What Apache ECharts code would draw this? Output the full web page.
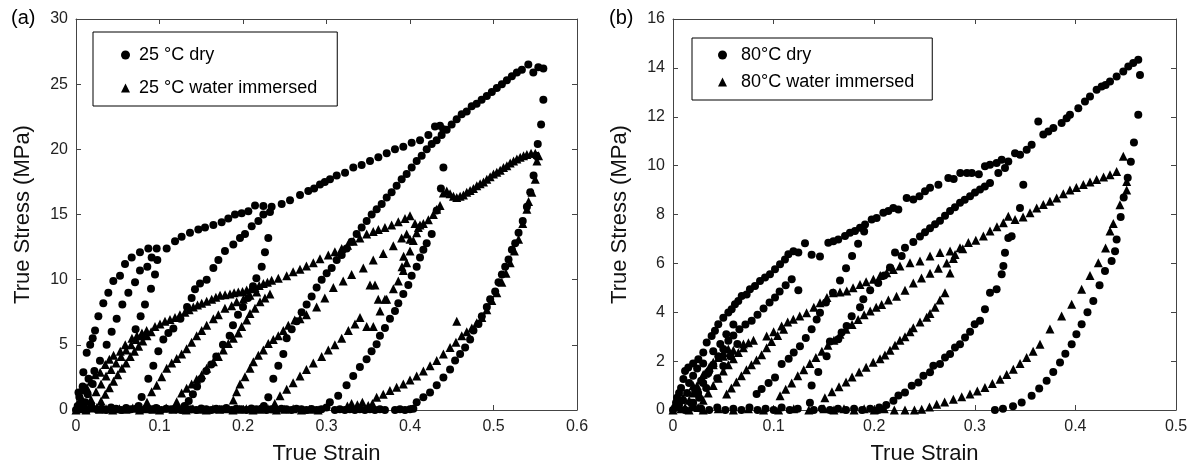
<!DOCTYPE html>
<html>
<head>
<meta charset="utf-8">
<script src="https://cdn.jsdelivr.net/npm/echarts@6/dist/echarts.min.js"></script>
<style>
html,body{margin:0;padding:0;background:#fff;}
#chart{width:1192px;height:470px;}
</style>
</head>
<body>
<div id="chart"></div>
<script>
// ---------- Tick values ----------
var aStrainTicks = [0, 0.6, 0.1];
var aStressTicks = [0, 30, 5];
var bStrainTicks = [0, 0.5, 0.1];
var bStressTicks = [0, 16, 2];

// ---------- Labels ----------
var legendA = ['25 °C dry', '25 °C water immersed'];
var legendB = ['80°C dry', '80°C water immersed'];
var axisNameX = 'True Strain';
var axisNameY = 'True Stress (MPa)';

// ================= Panel (a): 25 °C dry (circles) =================
var aDryEnvelope = [[0,0],[0.003,1.35],[0.0088,2.9],[0.0128,4.4],[0.017,5.0],[0.02,5.5],[0.0228,6.1],[0.0268,7.2],[0.0327,8.2],[0.0387,9.0],[0.0447,9.9],[0.0527,10.3],[0.0587,11.2],[0.0667,11.7],[0.0766,12.1],[0.0866,12.4],[0.0966,12.4],[0.1086,12.4],[0.1186,12.95],[0.1265,13.3],[0.1365,13.6],[0.1465,13.85],[0.1545,14.0],[0.1645,14.2],[0.1744,14.4],[0.1824,14.7],[0.1904,15.0],[0.1984,15.1],[0.2064,15.25],[0.2144,15.7],[0.2244,15.65],[0.2343,15.6],[0.2463,15.8],[0.2563,16.1],[0.2683,16.5],[0.2782,16.8],[0.2852,17.0],[0.2922,17.3],[0.298,17.5],[0.3042,17.7],[0.3122,18.0],[0.3222,18.2],[0.3321,18.6],[0.3421,18.8],[0.3521,19.1],[0.3621,19.4],[0.3721,19.7],[0.382,20.0],[0.392,20.2],[0.402,20.5],[0.412,20.7],[0.422,21.1],[0.4299,21.75],[0.4359,21.8],[0.4399,21.55]];
var aDryInner1 = [[0.005,0.5],[0.01,1.5],[0.015,2.4],[0.022,3.0],[0.0287,3.77],[0.0367,5.0],[0.0427,6.0],[0.0487,7.0],[0.0555,8.1],[0.0627,9.0],[0.0707,9.8],[0.0766,10.7],[0.0854,11.0],[0.0906,11.7],[0.0974,11.5]];
var aDryUnload1 = [[0.0946,10.4],[0.0898,9.3],[0.0826,8.1],[0.0774,7.2],[0.0714,6.2]];
var aDryReload2 = [[0.075,0.3],[0.0786,1.0],[0.0866,2.4],[0.0926,3.4],[0.0986,4.5],[0.1046,5.4],[0.1106,5.9],[0.1166,6.25],[0.125,7.0],[0.133,7.9],[0.1385,8.6],[0.1425,9.26],[0.1485,9.7],[0.1565,10.0],[0.1645,10.9],[0.1705,11.5],[0.1784,12.2],[0.1884,12.7],[0.1964,13.2],[0.2024,13.5],[0.2104,14.1],[0.2184,14.5],[0.2244,15.0],[0.2323,15.2]];
var aDryUnload2 = [[0.2303,13.2],[0.2263,12.1],[0.2224,11.0],[0.216,10.1],[0.212,9.5],[0.206,8.6],[0.2,7.9],[0.194,7.3],[0.188,6.5],[0.184,5.7],[0.176,5.0],[0.168,4.1],[0.162,3.5],[0.156,3.0],[0.15,2.4],[0.145,1.8],[0.14,1.2],[0.135,0.7],[0.13,0.3]];
var aDryReload3 = [[0.225,0.3],[0.2303,0.97],[0.2363,2.4],[0.2423,3.4],[0.2483,4.3],[0.2523,5.5],[0.2583,6.2],[0.2643,6.8],[0.2702,7.5],[0.2762,8.1],[0.2822,8.7],[0.2882,9.4],[0.2942,10.0],[0.3002,10.5],[0.3062,10.9],[0.3122,11.5],[0.3182,11.9],[0.3242,12.4],[0.3301,12.9],[0.3361,13.5],[0.3421,14.0],[0.3481,14.5],[0.3541,15.0],[0.3601,15.4],[0.3661,15.8],[0.3721,16.3],[0.378,16.7],[0.384,17.2],[0.39,17.7],[0.396,18.1],[0.402,18.6],[0.408,19.1],[0.414,19.5],[0.42,20.0],[0.426,20.4],[0.4319,20.7],[0.4379,21.1],[0.4439,21.5],[0.4499,21.9],[0.4559,22.3],[0.4619,22.7],[0.4679,22.9],[0.4739,23.3],[0.4798,23.5],[0.4858,23.8],[0.492,24.1],[0.498,24.4],[0.504,24.7],[0.51,25.0],[0.516,25.3],[0.522,25.6],[0.528,25.9],[0.534,26.1],[0.5417,26.5],[0.5477,25.9],[0.5537,26.3],[0.5597,26.2]];
var aDryUnload3 = [[0.44,18.6],[0.437,17.0],[0.432,15.3],[0.426,13.5],[0.42,12.8],[0.416,12.3],[0.412,11.7],[0.408,11.0],[0.402,10.3],[0.398,9.6],[0.392,8.9],[0.386,8.2],[0.382,7.6],[0.376,7.0],[0.37,6.3],[0.364,5.7],[0.36,5.05],[0.354,4.5],[0.348,3.9],[0.34,3.3],[0.332,2.6],[0.324,1.9],[0.314,1.1],[0.304,0.6],[0.3,0.2]];
var aDryUnload4 = [[0.5597,23.8],[0.557,21.9],[0.553,20.4],[0.551,19.5],[0.548,18.0],[0.544,16.7],[0.54,15.6],[0.535,14.5],[0.53,13.6],[0.526,12.8],[0.522,12.3],[0.518,11.55],[0.514,11.0],[0.51,10.4],[0.506,9.8],[0.502,9.1],[0.496,8.5],[0.492,7.9],[0.486,7.2],[0.482,6.6],[0.476,6.1],[0.472,5.4],[0.466,4.8],[0.46,4.3],[0.454,3.8],[0.448,3.1],[0.44,2.5],[0.432,1.9],[0.424,1.35],[0.416,0.97],[0.408,0.6],[0.404,0.1]];
var aDryOrigin = [[0.002,0.3],[0.004,1.0],[0.006,0.2],[0.008,1.8],[0.011,0.6],[0.014,1.2],[0.018,0.4],[0.02,2.0]];
var aDryZero = [[0.003,0.1],[0.008,0.2],[0.013,0.0],[0.019,0.15],[0.025,0.05],[0.031,0.1],[0.036,0.0],[0.042,0.2],[0.048,0.1],[0.054,0.0],[0.06,0.15],[0.066,0.05],[0.072,0.1],[0.078,0.0],[0.084,0.12],[0.09,0.05],[0.096,0.15],[0.102,0.0],[0.108,0.1],[0.114,0.05],[0.12,0.15],[0.126,0.0],[0.132,0.1],[0.138,0.05],[0.144,0.0],[0.15,0.12],[0.156,0.05],[0.162,0.0],[0.168,0.1],[0.174,0.05],[0.18,0.15],[0.186,0.0],[0.192,0.1],[0.198,0.05],[0.204,0.0],[0.21,0.12],[0.216,0.05],[0.222,0.1],[0.228,0.0],[0.234,0.05],[0.24,0.0],[0.246,0.1],[0.252,0.05],[0.258,0.0],[0.264,0.1],[0.27,0.05],[0.276,0.0],[0.282,0.08],[0.288,0.0],[0.294,0.05],[0.31,0.0],[0.316,0.05],[0.322,0.0],[0.328,0.05],[0.334,0.0],[0.34,0.05],[0.346,0.0],[0.352,0.05],[0.358,0.0],[0.364,0.05],[0.37,0.0],[0.382,0.0],[0.388,0.05],[0.394,0.0],[0.4,0.05]];

// ================= Panel (a): 25 °C water immersed (triangles) =================
var aWetEnvelope = [[0,0],[0.003,0.4],[0.007,0.9],[0.013,1.7],[0.018,2.2],[0.023,2.7],[0.029,2.9],[0.035,3.5],[0.04,3.9],[0.045,4.2],[0.053,4.5],[0.059,5.0],[0.067,5.5],[0.073,5.7],[0.079,5.9],[0.0846,6.1],[0.0946,6.4],[0.1006,6.6],[0.1066,6.8],[0.1126,6.95],[0.1186,7.1],[0.1245,7.3],[0.1305,7.5],[0.1355,7.7],[0.1405,7.9],[0.1455,8.05],[0.1505,8.2],[0.1565,8.35],[0.1625,8.5],[0.1675,8.65],[0.1725,8.8],[0.1785,8.85],[0.1844,8.9],[0.1894,9.0],[0.1944,9.05],[0.1994,9.1],[0.2044,9.2],[0.2094,9.3],[0.2144,9.4],[0.2194,9.55],[0.2244,9.7],[0.2293,9.8],[0.2343,9.95],[0.2423,10.1],[0.2523,10.3],[0.26,10.6],[0.2683,10.8],[0.276,11.05],[0.2842,11.3],[0.2922,11.6],[0.3022,11.9],[0.31,12.15],[0.3182,12.4],[0.3252,12.65],[0.3321,12.95],[0.34,13.2],[0.3481,13.5],[0.356,13.7],[0.3621,13.85],[0.37,14.0],[0.378,14.2],[0.386,14.45],[0.394,14.7],[0.4,14.9],[0.406,14.3],[0.41,14.0],[0.416,14.3],[0.422,14.6],[0.428,15.0],[0.432,15.4],[0.436,15.7],[0.44,16.65],[0.444,16.8],[0.448,16.6],[0.452,16.4],[0.456,16.3],[0.46,16.4],[0.464,16.5],[0.468,16.7],[0.472,16.85],[0.476,17.0],[0.48,17.2],[0.484,17.35],[0.488,17.5],[0.492,17.7],[0.496,17.9],[0.5,18.1],[0.504,18.25],[0.508,18.4],[0.512,18.6],[0.516,18.75],[0.52,18.95],[0.524,19.1],[0.528,19.25],[0.532,19.4],[0.536,19.5],[0.54,19.6],[0.545,19.7],[0.55,19.7],[0.554,19.5]];
var aWetUnload4 = [[0.552,19.1],[0.55,17.7],[0.546,16.7],[0.542,16.0],[0.54,15.4],[0.535,14.3],[0.53,13.1],[0.525,12.2],[0.52,11.3],[0.515,10.5],[0.51,9.8],[0.504,9.0],[0.498,8.4],[0.492,7.7],[0.486,7.1],[0.48,6.7],[0.474,6.3],[0.468,6.0],[0.462,5.7],[0.455,5.2],[0.448,4.8],[0.44,4.3],[0.432,3.8],[0.424,3.4],[0.416,3.0],[0.408,2.6],[0.4,2.3],[0.392,2.0],[0.384,1.75],[0.376,1.5],[0.368,1.2],[0.36,0.97],[0.355,0.5],[0.456,6.8]];
var aWetLoop1a = [[0.012,0.2],[0.018,0.8],[0.024,1.4],[0.03,2.0],[0.036,2.6],[0.042,3.1],[0.048,3.6],[0.054,4.1],[0.06,4.6],[0.066,5.0],[0.072,5.4],[0.078,5.7]];
var aWetLoop1b = [[0.025,0.2],[0.03,0.7],[0.035,1.2],[0.04,1.7],[0.045,2.2],[0.05,2.7],[0.055,3.2],[0.06,3.6],[0.065,4.1],[0.07,4.5],[0.075,4.9],[0.08,5.3],[0.085,5.7],[0.09,6.0]];
var aWetReload2 = [[0.085,0.6],[0.0906,1.4],[0.0966,1.9],[0.1026,2.55],[0.1086,3.2],[0.1146,3.6],[0.1206,3.95],[0.1265,4.3],[0.1325,4.7],[0.1385,5.2],[0.1445,5.7],[0.1505,6.1],[0.1565,6.5],[0.1645,7.0],[0.1705,7.3],[0.1784,7.8],[0.1864,8.0],[0.1924,8.3],[0.2004,8.5],[0.2084,8.8],[0.2164,9.05]];
var aWetReload3 = [[0.1206,0.64],[0.1265,1.3],[0.1325,1.66],[0.1385,2.0],[0.1445,2.35],[0.1505,2.7],[0.1565,3.2],[0.1645,3.7],[0.1705,4.1],[0.1764,4.6],[0.1824,5.1],[0.1884,5.5],[0.1944,5.9],[0.1984,6.4],[0.2044,6.9],[0.2084,7.4],[0.2144,7.8],[0.2204,8.3],[0.2263,8.6],[0.2323,8.9]];
var aWetReload4 = [[0.1884,0.77],[0.1924,1.4],[0.1964,2.0],[0.2024,2.55],[0.2084,3.2],[0.2124,3.7],[0.2184,4.2],[0.2244,4.6],[0.2303,5.1],[0.2363,5.4],[0.2423,5.7],[0.2483,6.1],[0.2543,6.5],[0.262,6.9],[0.2683,7.0],[0.276,7.3],[0.2882,7.9],[0.298,8.6],[0.3082,9.4],[0.32,9.9],[0.3301,10.4],[0.3441,10.9],[0.356,11.5],[0.368,12.0],[0.38,12.6],[0.39,13.2],[0.396,13.5]];
var aWetReload5 = [[0.238,0.5],[0.2443,1.1],[0.2523,1.6],[0.26,2.1],[0.2683,2.6],[0.276,3.1],[0.2842,3.6],[0.2942,4.1],[0.3022,4.6],[0.31,5.0],[0.3182,5.5],[0.3262,6.1],[0.3341,6.6],[0.3401,7.1],[0.3481,6.4],[0.3561,6.4],[0.3641,7.6],[0.3721,8.5],[0.3801,9.3],[0.386,9.9],[0.392,10.7],[0.396,11.3],[0.4,12.2],[0.404,13.0],[0.408,13.6],[0.412,14.2]];
var aWetScatter = [[0.3521,9.6],[0.3581,9.6],[0.362,8.5],[0.37,8.5],[0.3904,11.0],[0.3924,11.8],[0.4,13.1]];
var aWetZero = [[0.005,0.1],[0.012,0.0],[0.02,0.15],[0.028,0.05],[0.036,0.1],[0.044,0.0],[0.052,0.1],[0.06,0.05],[0.068,0.15],[0.076,0.0],[0.084,0.1],[0.092,0.05],[0.1,0.0],[0.108,0.15],[0.116,0.05],[0.124,0.1],[0.132,0.0],[0.14,0.1],[0.148,0.05],[0.156,0.0],[0.164,0.1],[0.172,0.05],[0.18,0.1],[0.188,0.0],[0.196,0.05],[0.204,0.1],[0.212,0.0],[0.22,0.05],[0.23,0.1],[0.24,0.0],[0.25,0.05],[0.26,0.1],[0.27,0.0],[0.28,0.05],[0.29,0.0],[0.325,0.3],[0.33,0.5],[0.337,0.4],[0.343,0.6],[0.35,0.35]];

// ================= Panel (b): 80 °C dry (circles) =================
var bDryEnvelope = [[0,0],[0.003,0.3],[0.006,0.7],[0.0103,1.27],[0.0152,1.74],[0.02,1.9],[0.0252,2.08],[0.0301,2.35],[0.0335,2.76],[0.0384,3.03],[0.0417,3.24],[0.045,3.51],[0.05,3.78],[0.055,3.99],[0.0583,4.12],[0.0616,4.33],[0.0649,4.46],[0.0683,4.67],[0.0732,4.73],[0.0765,4.94],[0.0815,5.07],[0.0865,5.28],[0.0915,5.42],[0.0964,5.55],[0.1014,5.76],[0.1064,5.96],[0.1113,6.16],[0.1147,6.37],[0.1197,6.5],[0.1246,6.44],[0.1312,6.82],[0.1378,6.35],[0.1461,6.28],[0.1544,6.84],[0.1594,6.91],[0.1643,6.98],[0.171,7.12],[0.1759,7.25],[0.1809,7.32],[0.1859,7.46],[0.1909,7.59],[0.1975,7.8],[0.2024,7.86],[0.2091,8.07],[0.2141,8.14],[0.219,8.27],[0.224,8.2],[0.2323,8.68],[0.2389,8.61],[0.245,8.75],[0.2505,8.95],[0.2555,9.09],[0.2638,9.22],[0.2737,9.49],[0.279,9.45],[0.2856,9.7],[0.2922,9.7],[0.297,9.7],[0.304,9.65],[0.3101,9.97],[0.3151,10.04],[0.3217,10.11],[0.3267,10.24],[0.3333,10.17],[0.34,10.51],[0.345,10.44],[0.3516,10.65],[0.3565,10.85],[0.3631,11.81],[0.3681,11.27],[0.3731,11.4],[0.3781,11.54],[0.3863,11.74],[0.3913,11.94],[0.3946,12.08],[0.4029,12.35],[0.4095,12.62],[0.4145,12.83],[0.4211,13.1],[0.4261,13.24],[0.43,13.3],[0.4344,13.44],[0.441,13.65],[0.4476,13.85],[0.4526,14.06],[0.4575,14.2],[0.4625,14.33]];
var bDryInner1 = [[0.02,0.3],[0.025,0.7],[0.03,1.1],[0.035,1.5],[0.04,1.85],[0.045,2.2],[0.05,2.5],[0.055,2.83],[0.06,3.05],[0.066,3.3],[0.072,3.5],[0.0782,3.65],[0.084,3.9],[0.09,4.15],[0.096,4.4],[0.1014,4.6],[0.106,4.85],[0.112,5.1],[0.118,5.35],[0.1246,4.9]];
var bDryReload2 = [[0.0831,0.65],[0.0881,0.86],[0.095,1.1],[0.1014,1.33],[0.108,1.88],[0.115,2.1],[0.12,2.35],[0.1262,2.61],[0.132,2.95],[0.1378,3.3],[0.1428,3.7],[0.1461,3.98],[0.152,4.4],[0.159,4.8],[0.166,5.3],[0.172,5.8],[0.178,6.3],[0.184,6.8],[0.19,7.3]];
var bDryReload3 = [[0.1361,0.3],[0.1378,1.0],[0.1444,1.55],[0.1527,2.2],[0.156,2.8],[0.1643,2.9],[0.1676,3.17],[0.1726,3.44],[0.1776,3.84],[0.1859,4.2],[0.1892,4.53],[0.196,4.9],[0.204,5.2],[0.21,5.5],[0.2157,5.83],[0.2207,6.44],[0.2273,6.3],[0.2306,6.64],[0.2389,6.87],[0.2455,7.1],[0.2505,7.27],[0.2555,7.44],[0.2605,7.6],[0.2654,7.74],[0.2704,7.95],[0.2754,8.14],[0.2803,8.3],[0.2853,8.48],[0.29,8.6],[0.2953,8.75],[0.3002,8.9],[0.3052,9.02],[0.31,9.15],[0.3151,9.29],[0.3234,9.7],[0.33,9.9]];
var bDryUnload3 = [[0.3482,9.22],[0.3449,8.27],[0.3366,7.11],[0.3333,7.04],[0.33,6.43],[0.3284,5.89],[0.3267,5.55],[0.3217,4.94],[0.3151,4.8],[0.3101,4.12],[0.3052,3.65],[0.2999,3.51],[0.2953,3.2],[0.2903,2.97],[0.2853,2.69],[0.2803,2.56],[0.2754,2.29],[0.2704,2.15],[0.2654,1.88],[0.2588,1.81],[0.2555,1.54],[0.2489,1.4],[0.2439,1.13],[0.2373,0.99],[0.2306,0.72],[0.2241,0.59],[0.2191,0.38],[0.212,0.2],[0.205,0.1]];
var bDryUnload4 = [[0.4642,13.71],[0.4625,12.08],[0.4582,10.95],[0.4551,10.16],[0.452,9.5],[0.448,8.7],[0.445,7.9],[0.441,6.98],[0.4394,6.5],[0.436,6.1],[0.4294,5.69],[0.424,5.1],[0.4178,4.46],[0.412,4.0],[0.4062,3.51],[0.401,3.1],[0.3963,2.69],[0.39,2.3],[0.3847,1.94],[0.378,1.55],[0.3714,1.2],[0.364,0.88],[0.3565,0.58],[0.3466,0.31],[0.338,0.15],[0.328,0.05],[0.32,0.0]];
var bDryOrigin = [[0.002,0.1],[0.004,0.5],[0.006,0.2],[0.008,0.9],[0.01,0.4],[0.012,1.6],[0.014,0.7],[0.016,1.1],[0.018,0.3],[0.02,1.4],[0.022,0.8],[0.024,1.7],[0.026,0.5],[0.028,1.2],[0.03,1.9],[0.033,0.9],[0.036,1.6],[0.04,2.4],[0.044,1.3],[0.047,2.7],[0.05,1.8],[0.053,3.1],[0.057,2.2],[0.06,3.5],[0.064,2.7]];
var bDryZero = [[0.005,0.1],[0.012,0.0],[0.02,0.1],[0.028,0.05],[0.036,0.0],[0.044,0.1],[0.052,0.0],[0.06,0.05],[0.068,0.0],[0.076,0.1],[0.084,0.0],[0.092,0.05],[0.1,0.0],[0.108,0.1],[0.116,0.0],[0.124,0.05],[0.14,0.0],[0.148,0.05],[0.156,0.0],[0.164,0.05],[0.172,0.0],[0.18,0.05],[0.188,0.0],[0.196,0.05],[0.204,0.0]];

// ================= Panel (b): 80 °C water immersed (triangles) =================
var bWetEnvelope = [[0,0],[0.01,0.5],[0.02,1.0],[0.03,1.45],[0.04,1.85],[0.05,2.2],[0.06,2.45],[0.07,2.7],[0.08,2.85],[0.0931,3.03],[0.1,3.2],[0.108,3.44],[0.114,3.6],[0.1196,3.71],[0.126,3.85],[0.1328,3.98],[0.14,4.2],[0.1461,4.39],[0.153,4.6],[0.1594,4.8],[0.166,4.83],[0.1727,4.87],[0.179,5.0],[0.1859,5.14],[0.192,5.25],[0.1992,5.35],[0.206,5.5],[0.2124,5.62],[0.219,5.75],[0.2256,5.89],[0.2356,6.03],[0.2455,6.1],[0.2555,6.3],[0.2654,6.44],[0.2754,6.51],[0.2853,6.64],[0.2936,6.85],[0.301,6.95],[0.3085,7.12],[0.3151,7.32],[0.322,7.5],[0.3284,7.66],[0.3333,7.93],[0.34,7.8],[0.348,7.9],[0.3549,8.07],[0.3615,8.27],[0.3681,8.41],[0.3747,8.54],[0.3814,8.68],[0.388,8.85],[0.3946,9.0],[0.401,9.1],[0.4079,9.23],[0.4145,9.33],[0.4211,9.43],[0.428,9.53],[0.4344,9.63],[0.441,9.76],[0.4476,10.38]];
var bWetUnload4 = [[0.451,9.35],[0.451,9.0],[0.4443,8.4],[0.4377,7.63],[0.4344,7.32],[0.43,6.63],[0.4228,6.03],[0.4145,5.5],[0.4062,4.94],[0.3963,4.33],[0.3863,3.85],[0.3747,3.31],[0.3648,2.69],[0.358,2.4],[0.3515,2.15],[0.345,1.9],[0.3383,1.67],[0.3317,1.45],[0.3251,1.26],[0.3175,1.08],[0.3101,0.92],[0.3025,0.78],[0.2952,0.65],[0.287,0.54],[0.2787,0.44],[0.27,0.33],[0.2621,0.24],[0.255,0.12],[0.2472,0.03],[0.24,0.0],[0.2306,0.0]];
var bWetReload4 = [[0.1064,0.58],[0.112,0.85],[0.118,1.1],[0.124,1.4],[0.13,1.65],[0.136,1.9],[0.142,2.15],[0.148,2.4],[0.154,2.65],[0.16,2.85],[0.166,3.1],[0.172,3.3],[0.178,3.5],[0.184,3.7],[0.19,3.9],[0.196,4.05],[0.202,4.2],[0.2074,4.32],[0.2141,4.5],[0.2222,4.65],[0.2306,4.9],[0.2389,5.2],[0.247,5.4],[0.2555,5.6],[0.2638,5.8],[0.2721,6.02],[0.2804,6.36],[0.288,6.6]];
var bWetReload5 = [[0.151,0.5],[0.158,0.75],[0.165,0.95],[0.172,1.15],[0.178,1.35],[0.185,1.55],[0.192,1.75],[0.199,1.95],[0.2058,2.1],[0.2107,2.25],[0.2157,2.45],[0.2207,2.65],[0.2256,2.85],[0.2306,3.0],[0.2356,3.2],[0.2389,3.37],[0.2455,3.6],[0.2522,3.8],[0.2555,3.95],[0.2605,4.2],[0.2654,4.5],[0.2704,4.8],[0.2754,5.61],[0.2787,6.2]];
var bWetReload3 = [[0.0533,0.65],[0.058,0.9],[0.063,1.15],[0.068,1.4],[0.073,1.65],[0.078,1.85],[0.083,2.05],[0.0881,2.26],[0.0931,2.55],[0.098,2.8],[0.104,3.05],[0.11,3.3]];
var bWetReload2 = [[0.025,0.1],[0.03,0.4],[0.035,0.7],[0.04,1.0],[0.045,1.3],[0.05,1.6],[0.055,1.85],[0.06,2.1],[0.065,2.35],[0.07,2.55],[0.075,2.75]];
var bWetReload1 = [[0.012,0.1],[0.016,0.4],[0.02,0.7],[0.024,1.0],[0.028,1.25],[0.032,1.5],[0.036,1.75],[0.04,1.95],[0.045,2.15],[0.05,2.35],[0.055,2.5]];
var bWetZero = [[0.008,0.05],[0.016,0.0],[0.03,0.0],[0.045,0.05],[0.06,0.0],[0.075,0.05],[0.09,0.0],[0.105,0.0],[0.12,0.05],[0.135,0.0],[0.15,0.05],[0.16,0.0],[0.17,0.05],[0.18,0.0],[0.19,0.05],[0.2,0.0],[0.21,0.05],[0.22,0.0]];

// ---------- Build ----------
function join() { var out = []; for (var i = 0; i < arguments.length; i++) out = out.concat(arguments[i]); return out; }
var aDry = join(aDryZero, aDryOrigin, aDryEnvelope, aDryInner1, aDryUnload1, aDryReload2, aDryUnload2, aDryReload3, aDryUnload3, aDryUnload4);
var aWet = join(aWetZero, aWetEnvelope, aWetUnload4, aWetLoop1a, aWetLoop1b, aWetReload2, aWetReload3, aWetReload4, aWetReload5, aWetScatter);
var bDry = join(bDryZero, bDryOrigin, bDryEnvelope, bDryInner1, bDryReload2, bDryReload3, bDryUnload3, bDryUnload4);
var bWet = join(bWetZero, bWetEnvelope, bWetUnload4, bWetReload1, bWetReload2, bWetReload3, bWetReload4, bWetReload5);

var FONT = 'Liberation Sans, Arial, sans-serif';
var AXC = '#444';
function axisBase(extra) {
  var o = {
    type: 'value',
    axisLine: { show: true, onZero: false, lineStyle: { color: AXC, width: 1 } },
    axisTick: { show: true, inside: true, length: 5, lineStyle: { color: AXC } },
    splitLine: { show: false },
    axisLabel: { show: true, fontFamily: FONT, fontSize: 16, color: '#222' }
  };
  for (var k in extra) o[k] = extra[k];
  return o;
}
function xA(grid, ticks, pos, labels) {
  return axisBase({ gridIndex: grid, position: pos, min: ticks[0], max: ticks[1], interval: ticks[2],
    name: labels ? axisNameX : '', nameLocation: 'middle', nameGap: 33,
    nameTextStyle: { fontFamily: FONT, fontSize: 22, color: '#111' },
    axisLabel: { show: labels, fontFamily: FONT, fontSize: 16, color: '#222', margin: 9 } });
}
function yA(grid, ticks, pos, labels) {
  return axisBase({ gridIndex: grid, position: pos, min: ticks[0], max: ticks[1], interval: ticks[2],
    name: labels ? axisNameY : '', nameLocation: 'middle', nameGap: 42,
    nameTextStyle: { fontFamily: FONT, fontSize: 22, color: '#111' },
    axisLabel: { show: labels, fontFamily: FONT, fontSize: 16, color: '#222', margin: 8 } });
}
function sc(name, data, xi, yi, sym, size) {
  return { name: name, type: 'scatter', data: data, xAxisIndex: xi, yAxisIndex: yi, symbol: sym, symbolSize: size,
    itemStyle: { color: '#000', opacity: 1 }, silent: true, animation: false };
}

var chart = echarts.init(document.getElementById('chart'), null, { renderer: 'canvas' });
chart.setOption({
  backgroundColor: '#fff',
  animation: false,
  grid: [
    { left: 76, top: 19, width: 501, height: 392, containLabel: false },
    { left: 673, top: 19, width: 503, height: 392, containLabel: false }
  ],
  xAxis: [ xA(0, aStrainTicks, 'bottom', true), xA(0, aStrainTicks, 'top', false),
           xA(1, bStrainTicks, 'bottom', true), xA(1, bStrainTicks, 'top', false) ],
  yAxis: [ yA(0, aStressTicks, 'left', true), yA(0, aStressTicks, 'right', false),
           yA(1, bStressTicks, 'left', true), yA(1, bStressTicks, 'right', false) ],
  legend: [
    { data: legendA, left: 93, top: 32, orient: 'vertical', borderColor: '#000', borderWidth: 1,
      padding: [14, 20, 9, 28], itemGap: 15, itemWidth: 9, itemHeight: 9, selectedMode: false,
      textStyle: { fontFamily: FONT, fontSize: 18, color: '#000', lineHeight: 18, padding: [0, 0, 0, 4] } },
    { data: legendB, left: 692, top: 38, orient: 'vertical', borderColor: '#000', borderWidth: 1,
      padding: [8, 18, 9, 26], itemGap: 9, itemWidth: 9, itemHeight: 9, selectedMode: false,
      textStyle: { fontFamily: FONT, fontSize: 18, color: '#000', lineHeight: 18, padding: [0, 0, 0, 9] } }
  ],
  graphic: [
    { type: 'text', left: 11, top: 8, style: { text: '(a)', font: '20px ' + FONT, fill: '#000' } },
    { type: 'text', left: 609, top: 8, style: { text: '(b)', font: '20px ' + FONT, fill: '#000' } }
  ],
  series: [
    sc(legendA[0], aDry, 0, 0, 'circle', 8),
    sc(legendA[1], aWet, 0, 0, 'triangle', 9),
    sc(legendB[0], bDry, 2, 2, 'circle', 8),
    sc(legendB[1], bWet, 2, 2, 'triangle', 9)
  ]
});
</script>
</body>
</html>
